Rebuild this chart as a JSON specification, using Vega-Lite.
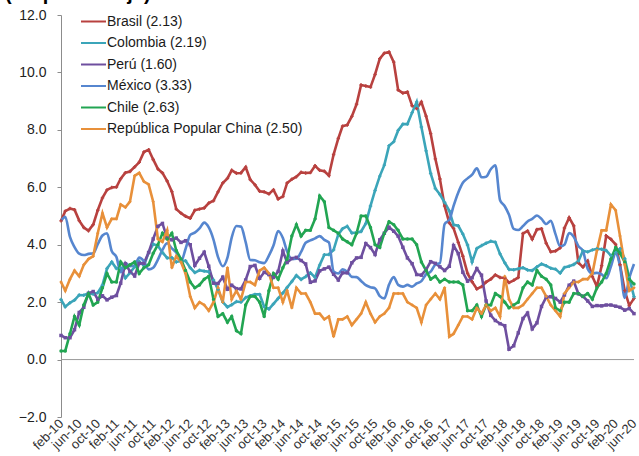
{
"$schema":"https://vega.github.io/schema/vega-lite/v6.json",
"width":573,"height":402,
"autosize":{"type":"none"},
"padding":{"left":61,"top":15,"right":5,"bottom":39},
"background":"white",
"config":{"font":"Liberation Sans","view":{"stroke":null}},
"title":{"text":"(En porcentaje)","anchor":"start","frame":"group","orient":"top","fontSize":20,"fontWeight":"bold","font":"Liberation Sans","color":"#000000","baseline":"alphabetic","offset":0,"dy":12,"dx":-56},
"datasets":{
"infl":[
{"d":"2010-02-01","Brasil":4.83,"Colombia":2.09,"Peru":0.84,"Mexico":4.83,"Chile":0.3,"China":2.7},
{"d":"2010-03-01","Brasil":5.17,"Colombia":1.84,"Peru":0.76,"Mexico":4.97,"Chile":0.3,"China":2.4},
{"d":"2010-04-01","Brasil":5.26,"Colombia":1.98,"Peru":0.76,"Mexico":4.27,"Chile":0.9,"China":2.8},
{"d":"2010-05-01","Brasil":5.22,"Colombia":2.07,"Peru":1.04,"Mexico":3.92,"Chile":1.5,"China":3.1},
{"d":"2010-06-01","Brasil":4.84,"Colombia":2.25,"Peru":1.64,"Mexico":3.69,"Chile":1.2,"China":2.9},
{"d":"2010-07-01","Brasil":4.60,"Colombia":2.24,"Peru":1.82,"Mexico":3.64,"Chile":1.9,"China":3.3},
{"d":"2010-08-01","Brasil":4.49,"Colombia":2.31,"Peru":2.31,"Mexico":3.68,"Chile":2.3,"China":3.5},
{"d":"2010-09-01","Brasil":4.70,"Colombia":2.28,"Peru":2.37,"Mexico":3.70,"Chile":1.9,"China":3.6},
{"d":"2010-10-01","Brasil":5.20,"Colombia":2.33,"Peru":2.10,"Mexico":4.02,"Chile":2.0,"China":4.4},
{"d":"2010-11-01","Brasil":5.63,"Colombia":2.59,"Peru":2.22,"Mexico":4.32,"Chile":2.5,"China":5.1},
{"d":"2010-12-01","Brasil":5.91,"Colombia":3.17,"Peru":2.08,"Mexico":4.40,"Chile":3.0,"China":4.6},
{"d":"2011-01-01","Brasil":5.99,"Colombia":3.40,"Peru":2.17,"Mexico":3.78,"Chile":2.7,"China":4.9},
{"d":"2011-02-01","Brasil":6.01,"Colombia":3.17,"Peru":2.23,"Mexico":3.57,"Chile":2.7,"China":4.9},
{"d":"2011-03-01","Brasil":6.30,"Colombia":3.19,"Peru":2.66,"Mexico":3.04,"Chile":3.4,"China":5.4},
{"d":"2011-04-01","Brasil":6.51,"Colombia":2.84,"Peru":3.34,"Mexico":3.36,"Chile":3.2,"China":5.3},
{"d":"2011-05-01","Brasil":6.55,"Colombia":3.02,"Peru":3.07,"Mexico":3.25,"Chile":3.3,"China":5.5},
{"d":"2011-06-01","Brasil":6.71,"Colombia":3.23,"Peru":2.91,"Mexico":3.28,"Chile":3.4,"China":6.4},
{"d":"2011-07-01","Brasil":6.87,"Colombia":3.42,"Peru":3.35,"Mexico":3.55,"Chile":3.0,"China":6.5},
{"d":"2011-08-01","Brasil":7.23,"Colombia":3.27,"Peru":3.35,"Mexico":3.42,"Chile":3.2,"China":6.2},
{"d":"2011-09-01","Brasil":7.31,"Colombia":3.73,"Peru":3.73,"Mexico":3.14,"Chile":3.3,"China":6.1},
{"d":"2011-10-01","Brasil":6.97,"Colombia":4.02,"Peru":4.20,"Mexico":3.20,"Chile":3.7,"China":5.5},
{"d":"2011-11-01","Brasil":6.64,"Colombia":3.96,"Peru":4.64,"Mexico":3.48,"Chile":4.0,"China":4.2},
{"d":"2011-12-01","Brasil":6.50,"Colombia":3.73,"Peru":4.74,"Mexico":3.82,"Chile":4.4,"China":4.1},
{"d":"2012-01-01","Brasil":6.22,"Colombia":3.54,"Peru":4.23,"Mexico":4.05,"Chile":4.2,"China":4.5},
{"d":"2012-02-01","Brasil":5.85,"Colombia":3.55,"Peru":4.17,"Mexico":3.87,"Chile":4.4,"China":3.2},
{"d":"2012-03-01","Brasil":5.24,"Colombia":3.40,"Peru":4.23,"Mexico":3.73,"Chile":3.8,"China":3.6},
{"d":"2012-04-01","Brasil":5.10,"Colombia":3.43,"Peru":4.08,"Mexico":3.41,"Chile":3.5,"China":3.4},
{"d":"2012-05-01","Brasil":4.99,"Colombia":3.44,"Peru":4.14,"Mexico":3.85,"Chile":3.1,"China":3.0},
{"d":"2012-06-01","Brasil":4.92,"Colombia":3.20,"Peru":4.00,"Mexico":4.34,"Chile":2.7,"China":2.2},
{"d":"2012-07-01","Brasil":5.20,"Colombia":3.03,"Peru":3.28,"Mexico":4.42,"Chile":2.5,"China":1.8},
{"d":"2012-08-01","Brasil":5.24,"Colombia":3.11,"Peru":3.53,"Mexico":4.57,"Chile":2.6,"China":2.0},
{"d":"2012-09-01","Brasil":5.28,"Colombia":3.08,"Peru":3.74,"Mexico":4.77,"Chile":2.8,"China":1.9},
{"d":"2012-10-01","Brasil":5.45,"Colombia":3.06,"Peru":3.25,"Mexico":4.60,"Chile":2.9,"China":1.7},
{"d":"2012-11-01","Brasil":5.53,"Colombia":2.77,"Peru":2.66,"Mexico":4.18,"Chile":2.1,"China":2.0},
{"d":"2012-12-01","Brasil":5.84,"Colombia":2.44,"Peru":2.65,"Mexico":3.57,"Chile":1.5,"China":2.5},
{"d":"2013-01-01","Brasil":6.15,"Colombia":2.00,"Peru":2.87,"Mexico":3.25,"Chile":1.6,"China":2.0},
{"d":"2013-02-01","Brasil":6.31,"Colombia":1.83,"Peru":2.45,"Mexico":3.55,"Chile":1.3,"China":3.2},
{"d":"2013-03-01","Brasil":6.59,"Colombia":1.91,"Peru":2.59,"Mexico":4.25,"Chile":1.5,"China":2.1},
{"d":"2013-04-01","Brasil":6.49,"Colombia":2.02,"Peru":2.47,"Mexico":4.65,"Chile":1.0,"China":2.4},
{"d":"2013-05-01","Brasil":6.50,"Colombia":2.00,"Peru":2.46,"Mexico":4.63,"Chile":0.9,"China":2.1},
{"d":"2013-06-01","Brasil":6.70,"Colombia":2.16,"Peru":2.77,"Mexico":4.09,"Chile":1.9,"China":2.7},
{"d":"2013-07-01","Brasil":6.27,"Colombia":2.22,"Peru":3.24,"Mexico":3.47,"Chile":2.2,"China":2.7},
{"d":"2013-08-01","Brasil":6.09,"Colombia":2.27,"Peru":3.28,"Mexico":3.46,"Chile":2.2,"China":2.6},
{"d":"2013-09-01","Brasil":5.86,"Colombia":2.27,"Peru":2.83,"Mexico":3.39,"Chile":2.0,"China":3.1},
{"d":"2013-10-01","Brasil":5.84,"Colombia":1.84,"Peru":3.04,"Mexico":3.36,"Chile":1.5,"China":3.2},
{"d":"2013-11-01","Brasil":5.77,"Colombia":1.76,"Peru":2.96,"Mexico":3.62,"Chile":2.4,"China":3.0},
{"d":"2013-12-01","Brasil":5.91,"Colombia":1.94,"Peru":2.86,"Mexico":3.97,"Chile":3.0,"China":2.5},
{"d":"2014-01-01","Brasil":5.59,"Colombia":2.13,"Peru":3.07,"Mexico":4.48,"Chile":2.8,"China":2.5},
{"d":"2014-02-01","Brasil":5.68,"Colombia":2.32,"Peru":3.78,"Mexico":4.23,"Chile":3.2,"China":2.0},
{"d":"2014-03-01","Brasil":6.15,"Colombia":2.51,"Peru":3.38,"Mexico":3.76,"Chile":3.5,"China":2.4},
{"d":"2014-04-01","Brasil":6.28,"Colombia":2.72,"Peru":3.52,"Mexico":3.50,"Chile":4.3,"China":1.8},
{"d":"2014-05-01","Brasil":6.37,"Colombia":2.93,"Peru":3.56,"Mexico":3.51,"Chile":4.7,"China":2.5},
{"d":"2014-06-01","Brasil":6.52,"Colombia":2.79,"Peru":3.45,"Mexico":3.75,"Chile":4.3,"China":2.3},
{"d":"2014-07-01","Brasil":6.50,"Colombia":2.89,"Peru":3.33,"Mexico":4.07,"Chile":4.5,"China":2.3},
{"d":"2014-08-01","Brasil":6.51,"Colombia":3.02,"Peru":2.69,"Mexico":4.15,"Chile":4.5,"China":2.0},
{"d":"2014-09-01","Brasil":6.75,"Colombia":2.86,"Peru":2.74,"Mexico":4.22,"Chile":4.9,"China":1.6},
{"d":"2014-10-01","Brasil":6.59,"Colombia":3.29,"Peru":3.09,"Mexico":4.30,"Chile":5.7,"China":1.6},
{"d":"2014-11-01","Brasil":6.56,"Colombia":3.65,"Peru":3.16,"Mexico":4.17,"Chile":5.5,"China":1.4},
{"d":"2014-12-01","Brasil":6.41,"Colombia":3.66,"Peru":3.22,"Mexico":4.08,"Chile":4.6,"China":1.5},
{"d":"2015-01-01","Brasil":7.14,"Colombia":3.82,"Peru":2.97,"Mexico":3.07,"Chile":4.5,"China":0.8},
{"d":"2015-02-01","Brasil":7.70,"Colombia":4.36,"Peru":2.77,"Mexico":3.00,"Chile":4.4,"China":1.4},
{"d":"2015-03-01","Brasil":8.13,"Colombia":4.56,"Peru":3.02,"Mexico":3.14,"Chile":4.2,"China":1.4},
{"d":"2015-04-01","Brasil":8.17,"Colombia":4.64,"Peru":3.02,"Mexico":3.06,"Chile":4.1,"China":1.5},
{"d":"2015-05-01","Brasil":8.47,"Colombia":4.41,"Peru":3.37,"Mexico":2.88,"Chile":4.0,"China":1.2},
{"d":"2015-06-01","Brasil":8.89,"Colombia":4.42,"Peru":3.54,"Mexico":2.87,"Chile":4.4,"China":1.4},
{"d":"2015-07-01","Brasil":9.56,"Colombia":4.46,"Peru":3.56,"Mexico":2.74,"Chile":5.0,"China":1.6},
{"d":"2015-08-01","Brasil":9.53,"Colombia":4.74,"Peru":4.04,"Mexico":2.59,"Chile":5.0,"China":2.0},
{"d":"2015-09-01","Brasil":9.49,"Colombia":5.35,"Peru":3.90,"Mexico":2.52,"Chile":4.6,"China":1.6},
{"d":"2015-10-01","Brasil":9.93,"Colombia":5.89,"Peru":3.66,"Mexico":2.48,"Chile":4.0,"China":1.3},
{"d":"2015-11-01","Brasil":10.48,"Colombia":6.39,"Peru":4.17,"Mexico":2.21,"Chile":3.9,"China":1.5},
{"d":"2015-12-01","Brasil":10.67,"Colombia":6.77,"Peru":4.40,"Mexico":2.13,"Chile":4.4,"China":1.6},
{"d":"2016-01-01","Brasil":10.71,"Colombia":7.45,"Peru":4.61,"Mexico":2.61,"Chile":4.8,"China":1.8},
{"d":"2016-02-01","Brasil":10.36,"Colombia":7.59,"Peru":4.47,"Mexico":2.87,"Chile":4.7,"China":2.3},
{"d":"2016-03-01","Brasil":9.39,"Colombia":7.98,"Peru":4.30,"Mexico":2.60,"Chile":4.5,"China":2.3},
{"d":"2016-04-01","Brasil":9.28,"Colombia":8.20,"Peru":3.91,"Mexico":2.54,"Chile":4.2,"China":2.3},
{"d":"2016-05-01","Brasil":9.32,"Colombia":8.20,"Peru":3.54,"Mexico":2.60,"Chile":4.2,"China":2.0},
{"d":"2016-06-01","Brasil":8.84,"Colombia":8.60,"Peru":3.34,"Mexico":2.54,"Chile":4.2,"China":1.9},
{"d":"2016-07-01","Brasil":8.74,"Colombia":8.97,"Peru":2.96,"Mexico":2.65,"Chile":4.0,"China":1.8},
{"d":"2016-08-01","Brasil":8.97,"Colombia":8.10,"Peru":2.94,"Mexico":2.73,"Chile":3.4,"China":1.3},
{"d":"2016-09-01","Brasil":8.48,"Colombia":7.27,"Peru":3.13,"Mexico":2.97,"Chile":3.1,"China":1.9},
{"d":"2016-10-01","Brasil":7.87,"Colombia":6.48,"Peru":3.41,"Mexico":3.06,"Chile":2.8,"China":2.1},
{"d":"2016-11-01","Brasil":6.99,"Colombia":5.96,"Peru":3.35,"Mexico":3.31,"Chile":2.9,"China":2.3},
{"d":"2016-12-01","Brasil":6.29,"Colombia":5.75,"Peru":3.23,"Mexico":3.36,"Chile":2.7,"China":2.1},
{"d":"2017-01-01","Brasil":5.35,"Colombia":5.47,"Peru":3.10,"Mexico":4.72,"Chile":2.8,"China":2.5},
{"d":"2017-02-01","Brasil":4.76,"Colombia":5.18,"Peru":3.25,"Mexico":4.86,"Chile":2.7,"China":0.8},
{"d":"2017-03-01","Brasil":4.57,"Colombia":4.69,"Peru":3.97,"Mexico":5.35,"Chile":2.7,"China":0.9},
{"d":"2017-04-01","Brasil":4.08,"Colombia":4.66,"Peru":3.69,"Mexico":5.82,"Chile":2.7,"China":1.2},
{"d":"2017-05-01","Brasil":3.60,"Colombia":4.37,"Peru":3.04,"Mexico":6.16,"Chile":2.6,"China":1.5},
{"d":"2017-06-01","Brasil":3.00,"Colombia":3.99,"Peru":2.73,"Mexico":6.31,"Chile":1.7,"China":1.5},
{"d":"2017-07-01","Brasil":2.71,"Colombia":3.40,"Peru":2.85,"Mexico":6.44,"Chile":1.7,"China":1.4},
{"d":"2017-08-01","Brasil":2.46,"Colombia":3.87,"Peru":3.17,"Mexico":6.66,"Chile":1.9,"China":1.8},
{"d":"2017-09-01","Brasil":2.54,"Colombia":3.97,"Peru":2.94,"Mexico":6.35,"Chile":1.5,"China":1.6},
{"d":"2017-10-01","Brasil":2.70,"Colombia":4.05,"Peru":2.04,"Mexico":6.37,"Chile":1.9,"China":1.9},
{"d":"2017-11-01","Brasil":2.80,"Colombia":4.12,"Peru":1.54,"Mexico":6.63,"Chile":1.9,"China":1.7},
{"d":"2017-12-01","Brasil":2.95,"Colombia":4.09,"Peru":1.36,"Mexico":6.77,"Chile":2.3,"China":1.8},
{"d":"2018-01-01","Brasil":2.86,"Colombia":3.68,"Peru":1.25,"Mexico":5.55,"Chile":2.2,"China":1.5},
{"d":"2018-02-01","Brasil":2.84,"Colombia":3.37,"Peru":1.18,"Mexico":5.34,"Chile":2.0,"China":2.9},
{"d":"2018-03-01","Brasil":2.68,"Colombia":3.14,"Peru":0.36,"Mexico":5.04,"Chile":1.8,"China":2.1},
{"d":"2018-04-01","Brasil":2.76,"Colombia":3.13,"Peru":0.48,"Mexico":4.55,"Chile":1.9,"China":1.8},
{"d":"2018-05-01","Brasil":2.86,"Colombia":3.16,"Peru":0.93,"Mexico":4.51,"Chile":2.0,"China":1.8},
{"d":"2018-06-01","Brasil":4.39,"Colombia":3.20,"Peru":1.43,"Mexico":4.65,"Chile":2.5,"China":1.9},
{"d":"2018-07-01","Brasil":4.48,"Colombia":3.12,"Peru":1.62,"Mexico":4.81,"Chile":2.7,"China":2.1},
{"d":"2018-08-01","Brasil":4.19,"Colombia":3.10,"Peru":1.07,"Mexico":4.90,"Chile":2.6,"China":2.3},
{"d":"2018-09-01","Brasil":4.53,"Colombia":3.23,"Peru":1.28,"Mexico":5.02,"Chile":3.1,"China":2.5},
{"d":"2018-10-01","Brasil":4.56,"Colombia":3.33,"Peru":1.85,"Mexico":4.90,"Chile":2.9,"China":2.5},
{"d":"2018-11-01","Brasil":4.05,"Colombia":3.27,"Peru":2.17,"Mexico":4.72,"Chile":2.8,"China":2.2},
{"d":"2018-12-01","Brasil":3.75,"Colombia":3.18,"Peru":2.19,"Mexico":4.83,"Chile":2.6,"China":1.9},
{"d":"2019-01-01","Brasil":3.78,"Colombia":3.15,"Peru":2.13,"Mexico":4.37,"Chile":1.8,"China":1.7},
{"d":"2019-02-01","Brasil":3.89,"Colombia":3.01,"Peru":2.00,"Mexico":3.94,"Chile":1.7,"China":1.5},
{"d":"2019-03-01","Brasil":4.58,"Colombia":3.21,"Peru":2.25,"Mexico":4.00,"Chile":2.0,"China":2.3},
{"d":"2019-04-01","Brasil":4.94,"Colombia":3.25,"Peru":2.59,"Mexico":4.41,"Chile":2.0,"China":2.5},
{"d":"2019-05-01","Brasil":4.66,"Colombia":3.31,"Peru":2.73,"Mexico":4.28,"Chile":2.3,"China":2.7},
{"d":"2019-06-01","Brasil":3.37,"Colombia":3.43,"Peru":2.29,"Mexico":3.95,"Chile":2.3,"China":2.7},
{"d":"2019-07-01","Brasil":3.22,"Colombia":3.79,"Peru":2.20,"Mexico":3.78,"Chile":2.2,"China":2.8},
{"d":"2019-08-01","Brasil":3.43,"Colombia":3.75,"Peru":2.04,"Mexico":3.16,"Chile":2.3,"China":2.8},
{"d":"2019-09-01","Brasil":2.89,"Colombia":3.82,"Peru":1.85,"Mexico":3.00,"Chile":2.1,"China":3.0},
{"d":"2019-10-01","Brasil":2.54,"Colombia":3.86,"Peru":1.88,"Mexico":3.02,"Chile":2.5,"China":3.8},
{"d":"2019-11-01","Brasil":3.27,"Colombia":3.84,"Peru":1.87,"Mexico":2.97,"Chile":2.7,"China":4.5},
{"d":"2019-12-01","Brasil":4.31,"Colombia":3.80,"Peru":1.90,"Mexico":2.83,"Chile":3.0,"China":4.5},
{"d":"2020-01-01","Brasil":4.19,"Colombia":3.62,"Peru":1.90,"Mexico":3.24,"Chile":3.5,"China":5.4},
{"d":"2020-02-01","Brasil":4.01,"Colombia":3.72,"Peru":1.86,"Mexico":3.70,"Chile":3.9,"China":5.2},
{"d":"2020-03-01","Brasil":3.30,"Colombia":3.86,"Peru":1.82,"Mexico":3.25,"Chile":3.7,"China":4.3},
{"d":"2020-04-01","Brasil":2.40,"Colombia":3.51,"Peru":1.72,"Mexico":2.15,"Chile":3.4,"China":3.3},
{"d":"2020-05-01","Brasil":1.88,"Colombia":2.85,"Peru":1.78,"Mexico":2.84,"Chile":2.8,"China":2.4},
{"d":"2020-06-01","Brasil":2.13,"Colombia":2.19,"Peru":1.60,"Mexico":3.33,"Chile":2.63,"China":2.50}
],
"ticks":[
{"d":"2010-02-01"},{"d":"2010-06-01"},{"d":"2010-10-01"},
{"d":"2011-02-01"},{"d":"2011-06-01"},{"d":"2011-10-01"},
{"d":"2012-02-01"},{"d":"2012-06-01"},{"d":"2012-10-01"},
{"d":"2013-02-01"},{"d":"2013-06-01"},{"d":"2013-10-01"},
{"d":"2014-02-01"},{"d":"2014-06-01"},{"d":"2014-10-01"},
{"d":"2015-02-01"},{"d":"2015-06-01"},{"d":"2015-10-01"},
{"d":"2016-02-01"},{"d":"2016-06-01"},{"d":"2016-10-01"},
{"d":"2017-02-01"},{"d":"2017-06-01"},{"d":"2017-10-01"},
{"d":"2018-02-01"},{"d":"2018-06-01"},{"d":"2018-10-01"},
{"d":"2019-02-01"},{"d":"2019-06-01"},{"d":"2019-10-01"},
{"d":"2020-02-01"},{"d":"2020-06-01"}
],
"zero":[{"d":"2010-02-01","d2":"2020-06-01","v":0}]
},
"encoding":{
"x":{"field":"d","type":"temporal","title":null,"scale":{"type":"utc","domain":[{"year":2010,"month":"feb","date":1,"utc":true},{"year":2020,"month":"jun","date":1,"utc":true}]},
"axis":{"title":null,"grid":false,"domain":false,"ticks":false,"labelAngle":-45,"labelAlign":"right","labelBaseline":"middle","labelFontSize":13,"labelColor":"#333333","labelPadding":4,"labelOverlap":false,"labelFlush":false,"labelBound":false,
"values":[{"year":2010,"month":"feb","date":1,"utc":true},{"year":2010,"month":"jun","date":1,"utc":true},{"year":2010,"month":"oct","date":1,"utc":true},{"year":2011,"month":"feb","date":1,"utc":true},{"year":2011,"month":"jun","date":1,"utc":true},{"year":2011,"month":"oct","date":1,"utc":true},{"year":2012,"month":"feb","date":1,"utc":true},{"year":2012,"month":"jun","date":1,"utc":true},{"year":2012,"month":"oct","date":1,"utc":true},{"year":2013,"month":"feb","date":1,"utc":true},{"year":2013,"month":"jun","date":1,"utc":true},{"year":2013,"month":"oct","date":1,"utc":true},{"year":2014,"month":"feb","date":1,"utc":true},{"year":2014,"month":"jun","date":1,"utc":true},{"year":2014,"month":"oct","date":1,"utc":true},{"year":2015,"month":"feb","date":1,"utc":true},{"year":2015,"month":"jun","date":1,"utc":true},{"year":2015,"month":"oct","date":1,"utc":true},{"year":2016,"month":"feb","date":1,"utc":true},{"year":2016,"month":"jun","date":1,"utc":true},{"year":2016,"month":"oct","date":1,"utc":true},{"year":2017,"month":"feb","date":1,"utc":true},{"year":2017,"month":"jun","date":1,"utc":true},{"year":2017,"month":"oct","date":1,"utc":true},{"year":2018,"month":"feb","date":1,"utc":true},{"year":2018,"month":"jun","date":1,"utc":true},{"year":2018,"month":"oct","date":1,"utc":true},{"year":2019,"month":"feb","date":1,"utc":true},{"year":2019,"month":"jun","date":1,"utc":true},{"year":2019,"month":"oct","date":1,"utc":true},{"year":2020,"month":"feb","date":1,"utc":true},{"year":2020,"month":"jun","date":1,"utc":true}],
"labelExpr":"['ene','feb','mar','abr','may','jun','jul','ago','sep','oct','nov','dic'][utcmonth(datum.value)] + '-' + utcFormat(datum.value, '%y')"}},
"y":{"field":"v","type":"quantitative","title":null,"scale":{"domain":[-2,12],"nice":false,"zero":false},
"axis":{"title":null,"grid":false,"values":[-2,0,2,4,6,8,10,12],"format":".1f","domain":true,"domainColor":"#8c8c8c","ticks":true,"tickSize":4,"tickColor":"#8c8c8c","labelFontSize":14,"labelColor":"#222222","labelPadding":11}}
},
"layer":[
{
"data":{"name":"zero"},
"mark":{"type":"rule","color":"#9a9a9a","strokeWidth":1},
"encoding":{"x2":{"field":"d2"}}
},
{
"data":{"name":"ticks"},
"mark":{"type":"rule","color":"#9a9a9a","strokeWidth":1},
"encoding":{
"y":{"datum":0,"type":"quantitative"},
"y2":{"datum":-0.14}
}
},
{
"data":{"name":"infl"},
"transform":[{"fold":["Brasil","Colombia","Peru","Mexico","Chile","China"],"as":["s","v"]},{"filter":"datum.s=='Brasil'||datum.s=='Colombia'||datum.s=='Peru'"}],
"mark":{"type":"line","strokeWidth":2.6},
"encoding":{
"color":{"field":"s","type":"nominal","scale":{"domain":["Brasil","Colombia","Peru","Mexico","Chile","China"],"range":["#B8413F","#3BA5B9","#6E4F9F","#5686CF","#22A552","#E8903A"]},
"legend":{"orient":"none","legendX":19,"legendY":-7,"title":null,"symbolType":"stroke","symbolSize":625,"symbolStrokeWidth":2,"labelFontSize":14,"labelColor":"#1a1a1a","labelOffset":0,"rowPadding":0.5,"labelLimit":400,
"labelExpr":"datum.label=='Brasil'?'Brasil (2.13)':datum.label=='Colombia'?'Colombia (2.19)':datum.label=='Peru'?'Perú (1.60)':datum.label=='Mexico'?'México (3.33)':datum.label=='Chile'?'Chile (2.63)':'República Popular China (2.50)'"}}
}
},
{
"data":{"name":"infl"},
"transform":[{"fold":["Brasil","Colombia","Peru","Mexico","Chile","China"],"as":["s","v"]},{"filter":"datum.s=='Mexico'"}],
"mark":{"type":"line","strokeWidth":2.6,"interpolate":"monotone"},
"encoding":{"color":{"field":"s","type":"nominal"}}
},
{
"data":{"name":"infl"},
"transform":[{"fold":["Brasil","Colombia","Peru","Mexico","Chile","China"],"as":["s","v"]},{"filter":"datum.s=='Chile'||datum.s=='China'"}],
"mark":{"type":"line","strokeWidth":2.6},
"encoding":{"color":{"field":"s","type":"nominal"}}
},
{
"data":{"name":"infl"},
"transform":[{"fold":["Brasil","Colombia","Peru","Mexico","Chile","China"],"as":["s","v"]},{"filter":"datum.s!='Mexico'"}],
"mark":{"type":"point","filled":true,"opacity":1},
"encoding":{
"color":{"field":"s","type":"nominal"},
"shape":{"field":"s","type":"nominal","scale":{"domain":["Brasil","Colombia","Peru","Chile","China"],"range":["cross","cross","square","circle","diamond"]},"legend":null},
"size":{"field":"s","type":"nominal","scale":{"domain":["Brasil","Colombia","Peru","Chile","China"],"range":[12,12,15,18,16]},"legend":null}
}
}
]
}
